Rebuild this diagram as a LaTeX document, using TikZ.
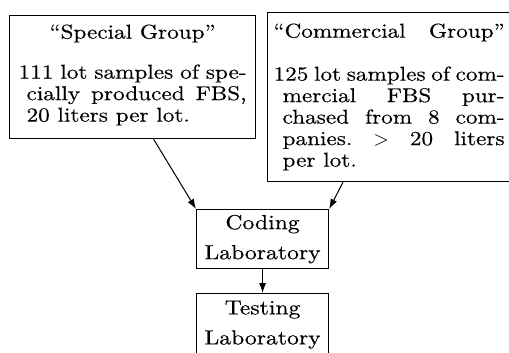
\documentclass[tikz,border=0pt]{standalone}
\usepackage{fontspec}
\setmainfont{lmroman10-regular}[Extension=.otf, FakeStretch=1.16, FakeBold=0.4]
\usepackage{tikz}
\usetikzlibrary{arrows.meta,positioning}
\frenchspacing
\newcommand{\fulline}[2]{\par\noindent\hspace*{#1}\makebox[\dimexpr\linewidth-#1\relax][s]{#2}}
\newcommand{\lastline}[2]{\par\noindent\hspace*{#1}#2\par}

\begin{document}
\begin{tikzpicture}[
    x=1pt, y=1pt,
    nosep/.style={inner sep=0},
    groupbox/.style={draw, line width=0.6pt, anchor=north west, align=justify,
        inner xsep=4.5pt, inner ysep=3.5pt, text width=114pt,
        font=\fontsize{10}{10.75}\selectfont},
    labbox/.style={draw, line width=0.6pt, anchor=north west, nosep, align=center,
        minimum width=66pt, minimum height=29.5pt,
        font=\fontsize{10.2}{10.5}\selectfont},
    flow/.style={draw, line width=0.5pt, -{Latex[length=5pt,width=3.5pt]}}]
\useasboundingbox (0,0) rectangle (254.5,-176.5);

\node[groupbox] (special) at (4.5,-7.5) {\makebox[\linewidth]{\rule{0pt}{8pt}“Special Group”}\par\vspace{9.25pt}
  \fulline{0pt}{111 lot samples of spe-}
  \fulline{4pt}{cially produced FBS,}
  \lastline{4pt}{20 liters per lot.\rule[-5pt]{0pt}{0pt}}};
\node[groupbox, inner xsep=3pt, text width=115.5pt] (commercial) at (133.5,-6) {\makebox[\linewidth][s]{\rule{0pt}{9pt}“Commercial Group”}\par\vspace{10.75pt}
  \fulline{0pt}{125 lot samples of com-}
  \fulline{4.5pt}{mercial FBS pur-}
  \fulline{4.5pt}{chased from 8 com-}
  \fulline{4.5pt}{panies. $>$ 20 liters}
  \lastline{4.5pt}{per lot.\rule[-4pt]{0pt}{0pt}}};

\node[labbox] (coding) at (98,-104.5) {Coding\\[4.5pt]Laboratory};
\node[labbox, minimum height=31pt] (testing) at (98,-146.5) {Testing\\[4.5pt]Laboratory};

\path[flow] ([xshift=10.5pt]special.south) -- (coding.north west);
\path[flow] ([xshift=38pt]commercial.south west) -- (coding.north east);
\path[flow] (coding) -- (testing);

\end{tikzpicture}
\end{document}
